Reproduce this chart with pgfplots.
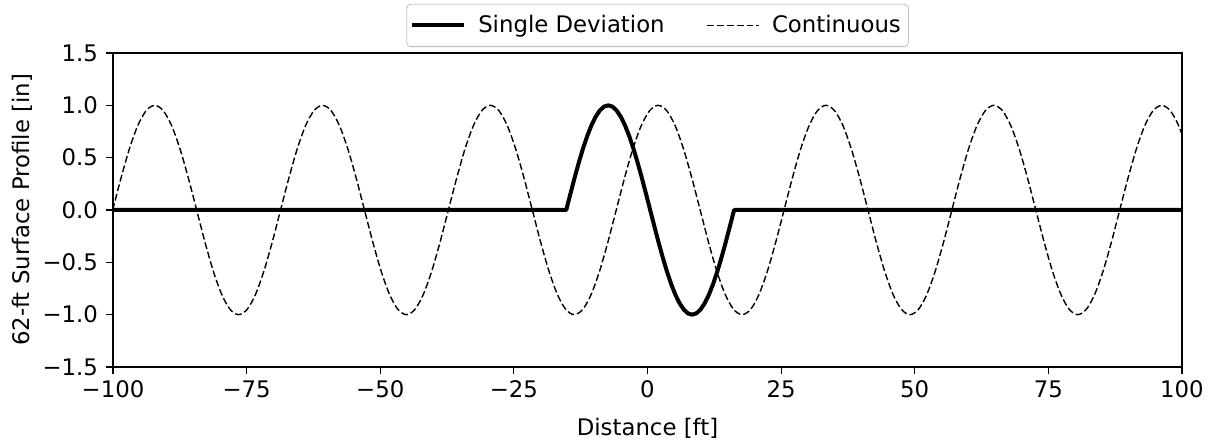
\documentclass[border=0pt]{standalone}
\usepackage{fontspec}
\setmainfont{DejaVu Sans}
\usepackage{pgfplots}
\pgfplotsset{compat=1.18}
\usepackage{pgfplotstable}

\pgfplotstableread{
x y
-100.05 0
-98.48 0.309
-96.91 0.588
-95.34 0.809
-93.77 0.951
-92.20 1
-90.63 0.951
-89.06 0.809
-87.49 0.588
-85.92 0.309
-84.35 0
-82.78 -0.309
-81.21 -0.588
-79.64 -0.809
-78.07 -0.951
-76.50 -1
-74.93 -0.951
-73.36 -0.809
-71.79 -0.588
-70.22 -0.309
-68.65 0
-67.08 0.309
-65.51 0.588
-63.94 0.809
-62.37 0.951
-60.80 1
-59.23 0.951
-57.66 0.809
-56.09 0.588
-54.52 0.309
-52.95 0
-51.38 -0.309
-49.81 -0.588
-48.24 -0.809
-46.67 -0.951
-45.10 -1
-43.53 -0.951
-41.96 -0.809
-40.39 -0.588
-38.82 -0.309
-37.25 0
-35.68 0.309
-34.11 0.588
-32.54 0.809
-30.97 0.951
-29.40 1
-27.83 0.951
-26.26 0.809
-24.69 0.588
-23.12 0.309
-21.55 0
-19.98 -0.309
-18.41 -0.588
-16.84 -0.809
-15.27 -0.951
-13.70 -1
-12.13 -0.951
-10.56 -0.809
-8.99 -0.588
-7.42 -0.309
-5.85 0
-4.28 0.309
-2.71 0.588
-1.14 0.809
0.43 0.951
2.00 1
3.57 0.951
5.14 0.809
6.71 0.588
8.28 0.309
9.85 0
11.42 -0.309
12.99 -0.588
14.56 -0.809
16.13 -0.951
17.70 -1
19.27 -0.951
20.84 -0.809
22.41 -0.588
23.98 -0.309
25.55 0
27.12 0.309
28.69 0.588
30.26 0.809
31.83 0.951
33.40 1
34.97 0.951
36.54 0.809
38.11 0.588
39.68 0.309
41.25 0
42.82 -0.309
44.39 -0.588
45.96 -0.809
47.53 -0.951
49.10 -1
50.67 -0.951
52.24 -0.809
53.81 -0.588
55.38 -0.309
56.95 0
58.52 0.309
60.09 0.588
61.66 0.809
63.23 0.951
64.80 1
66.37 0.951
67.94 0.809
69.51 0.588
71.08 0.309
72.65 0
74.22 -0.309
75.79 -0.588
77.36 -0.809
78.93 -0.951
80.50 -1
82.07 -0.951
83.64 -0.809
85.21 -0.588
86.78 -0.309
88.35 0
89.92 0.309
91.49 0.588
93.06 0.809
94.63 0.951
96.20 1
97.77 0.951
99.34 0.809
100.91 0.588
}\continuous

\pgfplotstableread{
x y
-100 0
-15.200 0
-14.415 0.156
-13.630 0.309
-12.845 0.454
-12.060 0.588
-11.275 0.707
-10.490 0.809
-9.705 0.891
-8.920 0.951
-8.135 0.988
-7.350 1
-6.565 0.988
-5.780 0.951
-4.995 0.891
-4.210 0.809
-3.425 0.707
-2.640 0.588
-1.855 0.454
-1.070 0.309
-0.285 0.156
0.500 0
1.285 -0.156
2.070 -0.309
2.855 -0.454
3.640 -0.588
4.425 -0.707
5.210 -0.809
5.995 -0.891
6.780 -0.951
7.565 -0.988
8.350 -1
9.135 -0.988
9.920 -0.951
10.705 -0.891
11.490 -0.809
12.275 -0.707
13.060 -0.588
13.845 -0.454
14.630 -0.309
15.415 -0.156
16.200 0
100 0
}\single

\begin{document}
\begin{tikzpicture}[font=\fontsize{11.4}{13.5}\selectfont]
\begin{axis}[
  name=main,
  at={(0,0)}, anchor=south west,
  scale only axis,
  width=534.5pt, height=157pt,
  xmin=-100, xmax=100, ymin=-1.5, ymax=1.5,
  xtick={-100,-75,-50,-25,0,25,50,75,100},
  xticklabels={−100,−75,−50,−25,0,25,50,75,100},
  ytick={-1.5,-1,-0.5,0,0.5,1,1.5},
  yticklabels={−1.5,−1.0,−0.5,0.0,0.5,1.0,1.5},
  tick align=outside,
  major tick length=3.5pt,
  tick style={black, line width=0.6pt},
  xtick pos=bottom, ytick pos=left,
  axis line style={line width=0.6pt},
  xlabel={Distance [ft]},
  ylabel={62-ft Surface Profile [in]},
  xlabel style={at={(axis description cs:0.5,-0.194)}, anchor=center},
  ylabel style={at={(axis description cs:-0.0851,0.5)}, anchor=center},
  yticklabel style={xshift=-0.5pt},
  legend columns=2,
  legend style={at={(axis description cs:0.5094,1.019)}, anchor=south,
    draw=black!25, rounded corners=2pt, inner xsep=1.8pt, inner ysep=3.5pt,
    /tikz/every odd column/.append style={column sep=4pt},
    /tikz/every even column/.append style={column sep=19pt}},
  legend image code/.code={\draw[#1] (0pt,0pt) -- (26pt,0pt);},
  clip=true,
]
\addplot[black, line width=2pt, line join=round] table[x=x,y=y] {\single};
\addlegendentry{Single Deviation}
\addplot[black, line width=0.7pt, dash pattern=on 3.4pt off 1.5pt, smooth] table[x=x,y=y] {\continuous};
\addlegendentry{Continuous}
\end{axis}
\pgfresetboundingbox
\path[use as bounding box] (-56.5pt,-37.5pt) rectangle (548.5pt,183.5pt);
\end{tikzpicture}
\end{document}
